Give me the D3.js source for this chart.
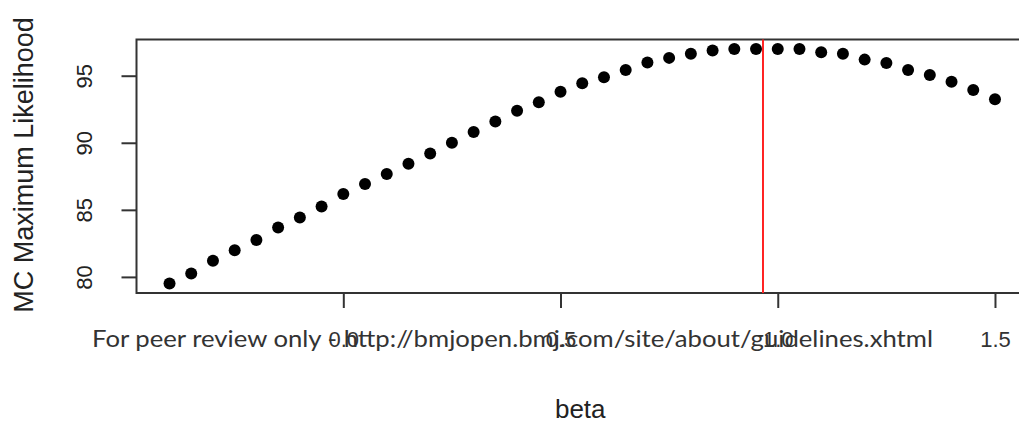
<!DOCTYPE html>
<html>
<head>
<meta charset="utf-8">
<script src="https://cdn.jsdelivr.net/npm/d3@7"></script>
<style>
  body { margin: 0; background: #fff; }
  svg { display: block; }
</style>
</head>
<body>
<div id="chart"></div>
<script>
// beta grid and MC maximum likelihood values
var beta = [-0.40, -0.35, -0.30, -0.25, -0.20, -0.15, -0.10, -0.05, 0.00, 0.05,
            0.10, 0.15, 0.20, 0.25, 0.30, 0.35, 0.40, 0.45, 0.50, 0.55,
            0.60, 0.65, 0.70, 0.75, 0.80, 0.85, 0.90, 0.95, 1.00, 1.05,
            1.10, 1.15, 1.20, 1.25, 1.30, 1.35, 1.40, 1.45, 1.50];
var mcml = [79.5, 80.25, 81.2, 81.98, 82.75, 83.68, 84.43, 85.25, 86.18, 86.93,
            87.68, 88.43, 89.2, 90.0, 90.8, 91.58, 92.38, 93.03, 93.8, 94.43,
            94.88, 95.43, 95.98, 96.33, 96.63, 96.88, 97.0, 97.0, 97.0, 97.0,
            96.75, 96.63, 96.2, 95.95, 95.43, 95.05, 94.55, 93.93, 93.25];
var xTicks = [0, 0.5, 1, 1.5];
var yTicks = [80, 85, 90, 95];
var betaHat = 0.966;
var watermark = "For peer review only - http://bmjopen.bmj.com/site/about/guidelines.xhtml";

var W = 1019, H = 423;
var svg = d3.select("#chart").append("svg")
    .attr("width", W)
    .attr("height", H);

var x = d3.scaleLinear().domain([-0.476, 1.576]).range([136.5, 1028]);
var y = d3.scaleLinear().domain([78.8, 97.7]).range([293, 39.5]);

var font = "'Liberation Sans', Arial, Helvetica, sans-serif";

// plot box (right side runs off the picture)
svg.append("rect")
    .attr("x", x.range()[0])
    .attr("y", y.range()[1])
    .attr("width", x.range()[1] - x.range()[0])
    .attr("height", y.range()[0] - y.range()[1])
    .attr("fill", "none")
    .attr("stroke", "#333")
    .attr("stroke-width", 2);

var xAxis = svg.append("g")
    .attr("transform", "translate(0," + y.range()[0] + ")")
    .call(d3.axisBottom(x).tickValues(xTicks).tickSize(15).tickFormat(d3.format(".1f")));
xAxis.select(".domain").remove();
xAxis.selectAll("line").attr("stroke", "#333").attr("stroke-width", 2);
xAxis.selectAll("text")
    .attr("y", 54)
    .attr("dy", null)
    .attr("fill", "#333")
    .style("font-family", font)
    .style("font-size", "22px");

var yAxis = svg.append("g")
    .attr("transform", "translate(" + x.range()[0] + ",0)")
    .call(d3.axisLeft(y).tickValues(yTicks).tickSize(15));
yAxis.select(".domain").remove();
yAxis.selectAll("line").attr("stroke", "#333").attr("stroke-width", 2);
yAxis.selectAll("text")
    .attr("x", null)
    .attr("dy", null)
    .attr("text-anchor", "middle")
    .attr("transform", "translate(-45,0) rotate(-90)")
    .attr("fill", "#222")
    .style("font-family", font)
    .style("font-size", "22px");

// red reference line at the estimate
svg.append("line")
    .attr("x1", x(betaHat)).attr("x2", x(betaHat))
    .attr("y1", y.range()[1]).attr("y2", y.range()[0])
    .attr("stroke", "#f22")
    .attr("stroke-width", 2);

svg.append("g").selectAll("circle")
    .data(beta)
    .enter()
    .append("circle")
    .attr("cx", function (d) { return x(d); })
    .attr("cy", function (d, i) { return y(mcml[i]); })
    .attr("r", 6)
    .attr("fill", "#000");

svg.append("text")
    .attr("x", (x.range()[0] + x.range()[1]) / 2 - 2)
    .attr("y", 418)
    .attr("text-anchor", "middle")
    .attr("fill", "#222")
    .style("font-family", font)
    .style("font-size", "26px")
    .text("beta");

svg.append("text")
    .attr("transform", "translate(33,165) rotate(-90)")
    .attr("text-anchor", "middle")
    .attr("fill", "#222")
    .style("font-family", font)
    .style("font-size", "27px")
    .text("MC Maximum Likelihood");

// journal watermark printed over the tick labels
svg.append("text")
    .attr("x", 92)
    .attr("y", 347)
    .attr("textLength", 841)
    .attr("lengthAdjust", "spacingAndGlyphs")
    .attr("fill", "#333")
    .style("font-family", "Lato, 'Open Sans', sans-serif")
    .style("font-size", "23px")
    .text(watermark);
</script>
</body>
</html>
